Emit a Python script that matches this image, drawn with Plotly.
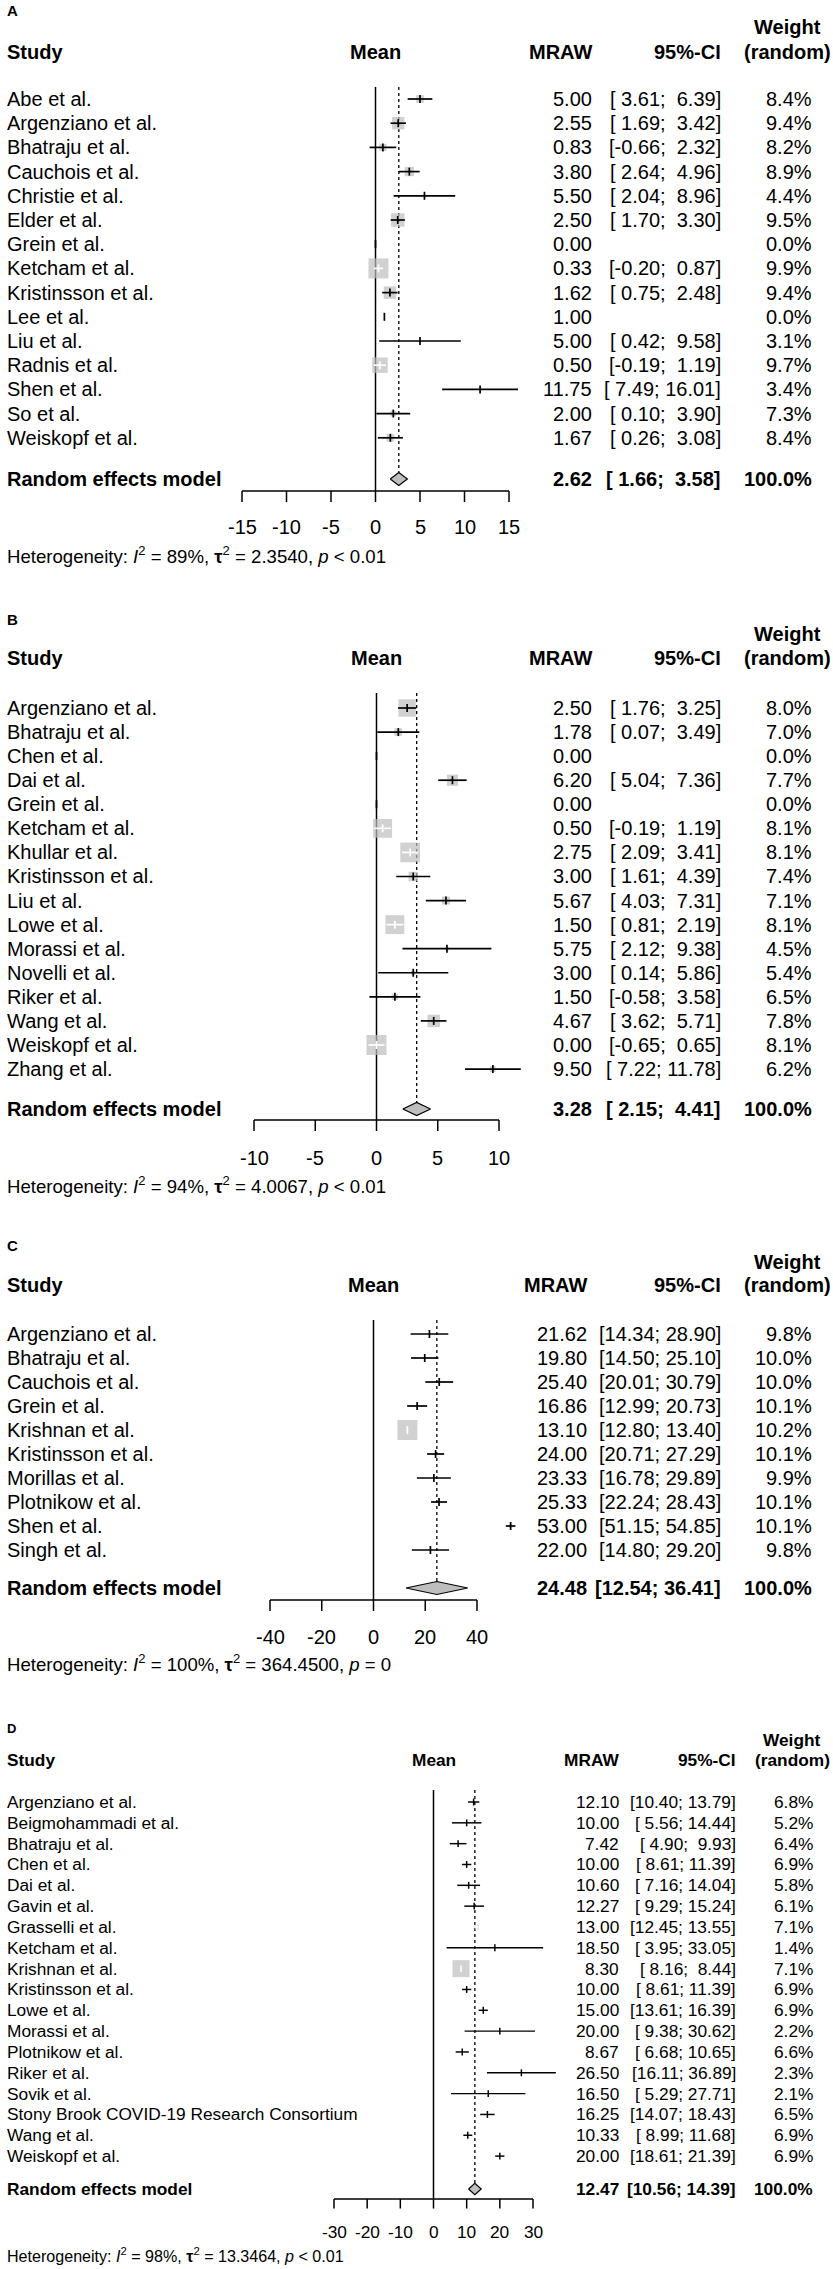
import plotly.graph_objects as go

# ---------------- data ----------------
# A
a_study = ["Abe et al.", "Argenziano et al.", "Bhatraju et al.", "Cauchois et al.", "Christie et al.",
           "Elder et al.", "Grein et al.", "Ketcham et al.", "Kristinsson et al.", "Lee et al.",
           "Liu et al.", "Radnis et al.", "Shen et al.", "So et al.", "Weiskopf et al."]
a_mean = [5.00, 2.55, 0.83, 3.80, 5.50, 2.50, 0.00, 0.33, 1.62, 1.00, 5.00, 0.50, 11.75, 2.00, 1.67]
a_lower = [3.61, 1.69, -0.66, 2.64, 2.04, 1.70, None, -0.20, 0.75, None, 0.42, -0.19, 7.49, 0.10, 0.26]
a_upper = [6.39, 3.42, 2.32, 4.96, 8.96, 3.30, None, 0.87, 2.48, None, 9.58, 1.19, 16.01, 3.90, 3.08]
a_weight = [8.4, 9.4, 8.2, 8.9, 4.4, 9.5, 0.0, 9.9, 9.4, 0.0, 3.1, 9.7, 3.4, 7.3, 8.4]
a_pooled = [2.62, 1.66, 3.58]
a_het = ["89%", "2.3540", "&lt; 0.01"]
a_ticks = [-15, -10, -5, 0, 5, 10, 15]

# B
b_study = ["Argenziano et al.", "Bhatraju et al.", "Chen et al.", "Dai et al.", "Grein et al.",
           "Ketcham et al.", "Khullar et al.", "Kristinsson et al.", "Liu et al.", "Lowe et al.",
           "Morassi et al.", "Novelli et al.", "Riker et al.", "Wang et al.", "Weiskopf et al.", "Zhang et al."]
b_mean = [2.50, 1.78, 0.00, 6.20, 0.00, 0.50, 2.75, 3.00, 5.67, 1.50, 5.75, 3.00, 1.50, 4.67, 0.00, 9.50]
b_lower = [1.76, 0.07, None, 5.04, None, -0.19, 2.09, 1.61, 4.03, 0.81, 2.12, 0.14, -0.58, 3.62, -0.65, 7.22]
b_upper = [3.25, 3.49, None, 7.36, None, 1.19, 3.41, 4.39, 7.31, 2.19, 9.38, 5.86, 3.58, 5.71, 0.65, 11.78]
b_weight = [8.0, 7.0, 0.0, 7.7, 0.0, 8.1, 8.1, 7.4, 7.1, 8.1, 4.5, 5.4, 6.5, 7.8, 8.1, 6.2]
b_pooled = [3.28, 2.15, 4.41]
b_het = ["94%", "4.0067", "&lt; 0.01"]
b_ticks = [-10, -5, 0, 5, 10]

# C
c_study = ["Argenziano et al.", "Bhatraju et al.", "Cauchois et al.", "Grein et al.", "Krishnan et al.",
           "Kristinsson et al.", "Morillas et al.", "Plotnikow et al.", "Shen et al.", "Singh et al."]
c_mean = [21.62, 19.80, 25.40, 16.86, 13.10, 24.00, 23.33, 25.33, 53.00, 22.00]
c_lower = [14.34, 14.50, 20.01, 12.99, 12.80, 20.71, 16.78, 22.24, 51.15, 14.80]
c_upper = [28.90, 25.10, 30.79, 20.73, 13.40, 27.29, 29.89, 28.43, 54.85, 29.20]
c_weight = [9.8, 10.0, 10.0, 10.1, 10.2, 10.1, 9.9, 10.1, 10.1, 9.8]
c_pooled = [24.48, 12.54, 36.41]
c_het = ["100%", "364.4500", "= 0"]
c_ticks = [-40, -20, 0, 20, 40]

# D
d_study = ["Argenziano et al.", "Beigmohammadi et al.", "Bhatraju et al.", "Chen et al.", "Dai et al.",
           "Gavin et al.", "Grasselli et al.", "Ketcham et al.", "Krishnan et al.", "Kristinsson et al.",
           "Lowe et al.", "Morassi et al.", "Plotnikow et al.", "Riker et al.", "Sovik et al.",
           "Stony Brook COVID-19 Research Consortium", "Wang et al.", "Weiskopf et al."]
d_mean = [12.10, 10.00, 7.42, 10.00, 10.60, 12.27, 13.00, 18.50, 8.30, 10.00, 15.00, 20.00, 8.67,
          26.50, 16.50, 16.25, 10.33, 20.00]
d_lower = [10.40, 5.56, 4.90, 8.61, 7.16, 9.29, 12.45, 3.95, 8.16, 8.61, 13.61, 9.38, 6.68,
           16.11, 5.29, 14.07, 8.99, 18.61]
d_upper = [13.79, 14.44, 9.93, 11.39, 14.04, 15.24, 13.55, 33.05, 8.44, 11.39, 16.39, 30.62, 10.65,
           36.89, 27.71, 18.43, 11.68, 21.39]
d_weight = [6.8, 5.2, 6.4, 6.9, 5.8, 6.1, 7.1, 1.4, 7.1, 6.9, 6.9, 2.2, 6.6, 2.3, 2.1, 6.5, 6.9, 6.9]
d_pooled = [12.47, 10.56, 14.39]
d_het = ["98%", "13.3464", "&lt; 0.01"]
d_ticks = [-30, -20, -10, 0, 10, 20, 30]

# ---------------- page geometry (pixels) ----------------
W, H = 833, 2269
FONT = "Arial, Liberation Sans, sans-serif"
GREY = "#bebebe"
NB = "\u00a0"

pos_a = dict(row0=99, sp=24.2, sum=479, axis=491, tlab=527, het=555, hdr=52, wt=27, lab=10, top=87,
             ax_l=242, ax_r=509, mraw=594, ci=723, wr=814, whdr=787, font=20, box=20)
pos_b = dict(row0=708, sp=24.07, sum=1109, axis=1120, tlab=1158, het=1185, hdr=658, wt=634, lab=619, top=693,
             ax_l=254, ax_r=499, mraw=594, ci=723, wr=814, whdr=787, font=20, box=20)
pos_c = dict(row0=1334, sp=24.0, sum=1588, axis=1600, tlab=1637, het=1663, hdr=1285, wt=1262, lab=1245, top=1320,
             ax_l=270, ax_r=477, mraw=589, ci=723, wr=814, whdr=787, font=20, box=20)
pos_d = dict(row0=1802, sp=20.83, sum=2189, axis=2199, tlab=2232, het=2255, hdr=1760, wt=1740, lab=1728, top=1790,
             ax_l=334, ax_r=533, mraw=621, ci=738, wr=815, whdr=792, font=17.3, box=17)

fig = go.Figure()
annots = []


def ci_text(lo, hi, wd):
    s = f"[{lo:>{wd}.2f}; {hi:>{wd}.2f}]"
    return s.replace(" ", NB)


def add_panel(k, letter, study, mean, lower, upper, weight, pooled, het, ticks, pos):
    xn = "" if k == 1 else str(k)
    xr, yr = "x" + xn, "y" + xn
    fs, sp, y0 = pos["font"], pos["sp"], pos["row0"]
    row = lambda py: (py - y0) / sp
    t0, t1 = ticks[0], ticks[-1]
    ppu = (pos["ax_r"] - pos["ax_l"]) / (t1 - t0)
    fig.update_layout({
        "xaxis" + xn: dict(domain=[0, 1], range=[t0 - pos["ax_l"] / ppu, t0 + (W - pos["ax_l"]) / ppu],
                           visible=False, fixedrange=True),
        "yaxis" + xn: dict(domain=[0, 1], range=[(H - y0) / sp, -y0 / sp], visible=False, fixedrange=True),
    })
    sc = fs / 20.0
    lw = 1.7 * sc

    def txt(x_px, py, s, anchor, bold=False, size=fs):
        annots.append(dict(x=x_px / W, xref="paper", y=row(py), yref=yr, text=f"<b>{s}</b>" if bold else s,
                           xanchor=anchor, yanchor="middle", showarrow=False,
                           font=dict(family=FONT, size=size, color="black")))

    widths = [hi - lo for lo, hi in zip(lower, upper) if lo is not None]
    wmin = min(widths)
    vals = [v for v in lower + upper + pooled[1:] if v is not None]
    wd = max(len(f"{v:.2f}") for v in vals)

    # grey boxes (side ~ 1/CI width) and CI lines, white when the box covers the CI
    bx, by, bs = [], [], []
    lines = {"black": ([], []), "white": ([], [])}
    th = 4 * sc / sp
    for r, (m, lo, hi) in enumerate(zip(mean, lower, upper)):
        if lo is None:
            col = "black"
        else:
            side = pos["box"] * wmin / (hi - lo)
            bx.append(m)
            by.append(r)
            bs.append(side)
            col = "white" if side > (hi - lo) * ppu else "black"
            lines[col][0].extend([lo, hi, None])
            lines[col][1].extend([r, r, None])
        lines[col][0].extend([m, m, None])
        lines[col][1].extend([r - th, r + th, None])

    top = row(pos["top"])
    ra = row(pos["axis"])
    rs = row(pos["sum"])
    hd = 6.5 * sc / sp

    # reference line at zero
    fig.add_trace(go.Scatter(x=[0, 0], y=[top, ra], mode="lines", line=dict(color="black", width=1.5),
                             xaxis=xr, yaxis=yr, hoverinfo="skip"))
    # dashed line at the pooled estimate
    fig.add_trace(go.Scatter(x=[pooled[0], pooled[0]], y=[top, rs - hd], mode="lines",
                             line=dict(color="black", width=1.3, dash="3px,3px"),
                             xaxis=xr, yaxis=yr, hoverinfo="skip"))
    fig.add_trace(go.Scatter(x=bx, y=by, mode="markers",
                             marker=dict(symbol="square", size=bs, color=GREY, line=dict(width=0)),
                             xaxis=xr, yaxis=yr, hoverinfo="skip"))
    for col in ["black", "white"]:
        fig.add_trace(go.Scatter(x=lines[col][0], y=lines[col][1], mode="lines",
                                 line=dict(color=col, width=lw), xaxis=xr, yaxis=yr, hoverinfo="skip"))
    # pooled diamond
    m, lo, hi = pooled
    fig.add_trace(go.Scatter(x=[lo, m, hi, m, lo], y=[rs, rs - hd, rs, rs + hd, rs], mode="lines",
                             fill="toself", fillcolor=GREY, line=dict(color="black", width=1.2),
                             xaxis=xr, yaxis=yr, hoverinfo="skip"))
    # axis line + ticks
    ax_x, ax_y = [t0, t1, None], [ra, ra, None]
    for t in ticks:
        ax_x += [t, t, None]
        ax_y += [ra, ra + 11 * sc / sp, None]
    fig.add_trace(go.Scatter(x=ax_x, y=ax_y, mode="lines", line=dict(color="black", width=1.5),
                             xaxis=xr, yaxis=yr, hoverinfo="skip"))
    for t in ticks:
        annots.append(dict(x=t, xref=xr, y=row(pos["tlab"]), yref=yr, text=str(t), showarrow=False,
                           xanchor="center", yanchor="middle", font=dict(family=FONT, size=fs, color="black")))

    # headers
    txt(5, pos["lab"], letter, "left", bold=True, size=15 * sc)
    txt(pos["whdr"], pos["wt"], "Weight", "center", bold=True)
    txt(5, pos["hdr"], "Study", "left", bold=True)
    txt((pos["ax_l"] + pos["ax_r"]) / 2, pos["hdr"], "Mean", "center", bold=True)
    txt(pos["mraw"], pos["hdr"], "MRAW", "right", bold=True)
    txt(pos["ci"], pos["hdr"], "95%-CI", "right", bold=True)
    txt(pos["whdr"], pos["hdr"], "(random)", "center", bold=True)

    # study rows
    for r, (name, m, lo, hi, w) in enumerate(zip(study, mean, lower, upper, weight)):
        py = y0 + r * sp
        txt(5, py, name, "left")
        txt(pos["mraw"], py, f"{m:.2f}", "right")
        if lo is not None:
            txt(pos["ci"], py, ci_text(lo, hi, wd), "right")
        txt(pos["wr"], py, f"{w:.1f}%", "right")

    # pooled row
    txt(5, pos["sum"], "Random effects model", "left", bold=True)
    txt(pos["mraw"], pos["sum"], f"{pooled[0]:.2f}", "right", bold=True)
    txt(pos["ci"], pos["sum"], ci_text(pooled[1], pooled[2], wd), "right", bold=True)
    txt(pos["wr"], pos["sum"], "100.0%", "right", bold=True)

    i2, tau2, p = het
    txt(5, pos["het"], f"Heterogeneity: <i>I</i><sup>2</sup> = {i2}, <b>\u03c4</b><sup>2</sup> = {tau2}, <i>p</i> {p}",
        "left", size=fs * 0.93)


add_panel(1, "A", a_study, a_mean, a_lower, a_upper, a_weight, a_pooled, a_het, a_ticks, pos_a)
add_panel(2, "B", b_study, b_mean, b_lower, b_upper, b_weight, b_pooled, b_het, b_ticks, pos_b)
add_panel(3, "C", c_study, c_mean, c_lower, c_upper, c_weight, c_pooled, c_het, c_ticks, pos_c)
add_panel(4, "D", d_study, d_mean, d_lower, d_upper, d_weight, d_pooled, d_het, d_ticks, pos_d)

fig.update_layout(
    width=W, height=H,
    margin=dict(l=0, r=0, t=0, b=0),
    paper_bgcolor="white",
    plot_bgcolor="rgba(0,0,0,0)",
    showlegend=False,
    annotations=annots,
)

# the page body has a default 8px margin; drop it so the figure fills the window exactly
fig.write_html("out.html", config={"displayModeBar": False},
               post_script="document.body.style.margin='0';")
